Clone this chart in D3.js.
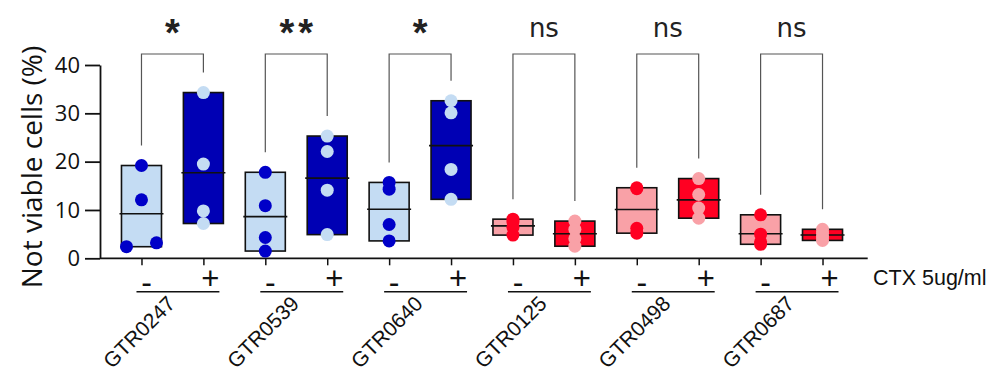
<!DOCTYPE html>
<html>
<head>
<meta charset="utf-8">
<script src="https://cdn.jsdelivr.net/npm/d3@7"></script>
<style>
  html, body { margin: 0; padding: 0; background: #fff; }
  svg { display: block; }
</style>
</head>
<body>
<svg id="chart" width="995" height="376"></svg>
<script>
// ---- data ----
const categories = ["GTR0247", "GTR0539", "GTR0640", "GTR0125", "GTR0498", "GTR0687"];
const treatments = ["-", "+"];
const minusValues = [
  [19.2, 12.1, 3.2, 2.4],
  [17.8, 10.9, 4.3, 1.5],
  [15.7, 14.3, 7.0, 3.6],
  [8.1, 7.5, 6.4, 4.8],
  [14.6, 14.4, 6.2, 5.2],
  [9.0, 5.0, 3.4, 2.9]
];
const plusValues = [
  [34.3, 19.5, 9.8, 7.2],
  [25.3, 22.1, 14.1, 4.9],
  [32.6, 30.1, 18.4, 12.2],
  [7.7, 6.0, 4.1, 2.5],
  [16.5, 13.2, 10.4, 8.3],
  [6.0, 5.2, 4.4, 3.7]
];
const significance = ["*", "**", "*", "ns", "ns", "ns"];
const colourFamily = ["blue", "blue", "blue", "red", "red", "red"];
const yTicks = [0, 10, 20, 30, 40];
const yLabel = "Not viable cells (%)";
const treatmentLabel = "CTX 5ug/ml";
// horizontal dodge (in dot widths) for overlapping points: key = category|treatment
const dodge = { "GTR0247|-": [0, 0, 1, -1] };

// ---- styles ----
const colours = {
  blue: { light: "#c4dcf3", dark: "#0000b4", darkDot: "#0000c8" },
  red:  { light: "#f9a1a7", dark: "#ff0022", darkDot: "#ff0022" }
};

const svg = d3.select("#chart");
const y = d3.scaleLinear().domain([0, 40]).range([258.3, 65]);
const keys = [];
categories.forEach(c => treatments.forEach(t => keys.push(c + "|" + t)));
const x = d3.scalePoint().domain(keys).range([100, 864]).padding(0.67);

const boxW = 40, r = 6.5;

// axes
const yAxis = d3.axisLeft(y).tickValues(yTicks).tickSize(15).tickSizeOuter(0).tickPadding(5);
const gy = svg.append("g").attr("transform", "translate(100,0)").call(yAxis);
gy.select(".domain").attr("stroke", "#111").attr("stroke-width", 1.8);
gy.selectAll(".tick line").attr("stroke", "#111").attr("stroke-width", 1.8);
gy.selectAll(".tick text").attr("fill", "#111").style("font-family", "'Open Sans', sans-serif").style("font-size", "22px");

const xAxis = d3.axisBottom(x).tickSize(7).tickSizeOuter(0).tickFormat("");
const gx = svg.append("g").attr("transform", "translate(0,258.3)").call(xAxis);
gx.select(".domain").attr("stroke", "#111").attr("stroke-width", 1.8).attr("d", "M100,0H867.7");
gx.selectAll(".tick line").attr("stroke", "#111").attr("stroke-width", 1.5);

// y label
svg.append("text")
  .attr("transform", "rotate(-90)")
  .attr("x", -167).attr("y", 42)
  .attr("text-anchor", "middle")
  .style("font-family", "'Open Sans', sans-serif")
  .style("font-size", "28px")
  .attr("fill", "#111")
  .text(yLabel);

// boxes
const series = [];
categories.forEach((c, i) => {
  const fam = colours[colourFamily[i]];
  series.push({ key: c + "|-", vals: minusValues[i], fill: fam.light, dot: fam.darkDot });
  series.push({ key: c + "|+", vals: plusValues[i], fill: fam.dark, dot: fam.light });
});

const gBox = svg.append("g");
series.forEach(s => {
  const cx = x(s.key);
  const lo = d3.min(s.vals), hi = d3.max(s.vals), m = d3.mean(s.vals);
  gBox.append("rect")
    .attr("x", cx - boxW / 2).attr("y", y(hi))
    .attr("width", boxW).attr("height", y(lo) - y(hi))
    .attr("fill", s.fill).attr("stroke", "#111").attr("stroke-width", 1.6);
  gBox.append("line")
    .attr("x1", cx - boxW / 2 - 2).attr("x2", cx + boxW / 2 + 2)
    .attr("y1", y(m)).attr("y2", y(m))
    .attr("stroke", "#111").attr("stroke-width", 1.6);
});
series.forEach(s => {
  const cx = x(s.key);
  const dd = dodge[s.key] || s.vals.map(() => 0);
  gBox.selectAll(null).data(s.vals).enter().append("circle")
    .attr("cx", (d, j) => cx + dd[j] * 15)
    .attr("cy", d => y(d))
    .attr("r", r)
    .attr("fill", s.dot);
});

// significance brackets
const bracketY = 54;
categories.forEach((c, i) => {
  const x1 = x(c + "|-"), x2 = x(c + "|+");
  const top1 = y(d3.max(minusValues[i])) - 20;
  const top2 = y(d3.max(plusValues[i])) - 20;
  svg.append("path")
    .attr("d", `M${x1},${top1}V${bracketY}H${x2}V${top2}`)
    .attr("fill", "none").attr("stroke", "#555").attr("stroke-width", 1.2);
  const isStar = significance[i].indexOf("*") >= 0;
  svg.append("text")
    .attr("x", (x1 + x2) / 2 + (isStar ? 2 : 0)).attr("y", isStar ? 46 : 37)
    .attr("text-anchor", "middle")
    .style("font-family", isStar ? "'Liberation Sans', Arial, sans-serif" : "'DejaVu Sans', sans-serif")
    .style("font-weight", isStar ? "bold" : "normal")
    .style("font-size", isStar ? "38px" : "26px")
    .style("letter-spacing", isStar ? "4px" : "0px")
    .attr("fill", "#222")
    .text(significance[i]);
});

// treatment labels, underlines and group labels
const fontArial = "'Liberation Sans', Arial, sans-serif";
categories.forEach((c, i) => {
  const x1 = x(c + "|-"), x2 = x(c + "|+");
  svg.append("text").attr("x", x1 + 5).attr("y", 293).attr("text-anchor", "middle")
    .style("font-family", fontArial).style("font-size", "32px").attr("fill", "#111").text(treatments[0]);
  svg.append("text").attr("x", x2 + 7).attr("y", 289).attr("text-anchor", "middle")
    .style("font-family", fontArial).style("font-size", "31px").attr("fill", "#111").text(treatments[1]);
  svg.append("line").attr("x1", x1 - 5).attr("x2", x2 + 16).attr("y1", 291.7).attr("y2", 291.7)
    .attr("stroke", "#111").attr("stroke-width", 1.5);
  const ax = (x1 + x2) / 2 + 4, ay = 305;
  svg.append("text")
    .attr("transform", `translate(${ax},${ay}) rotate(-45)`)
    .attr("text-anchor", "end")
    .style("font-family", fontArial).style("font-size", "21px").attr("fill", "#111")
    .text(c);
});

svg.append("text").attr("x", 873).attr("y", 285)
  .style("font-family", fontArial).style("font-size", "21.5px").attr("fill", "#111")
  .text(treatmentLabel);
</script>
</body>
</html>
